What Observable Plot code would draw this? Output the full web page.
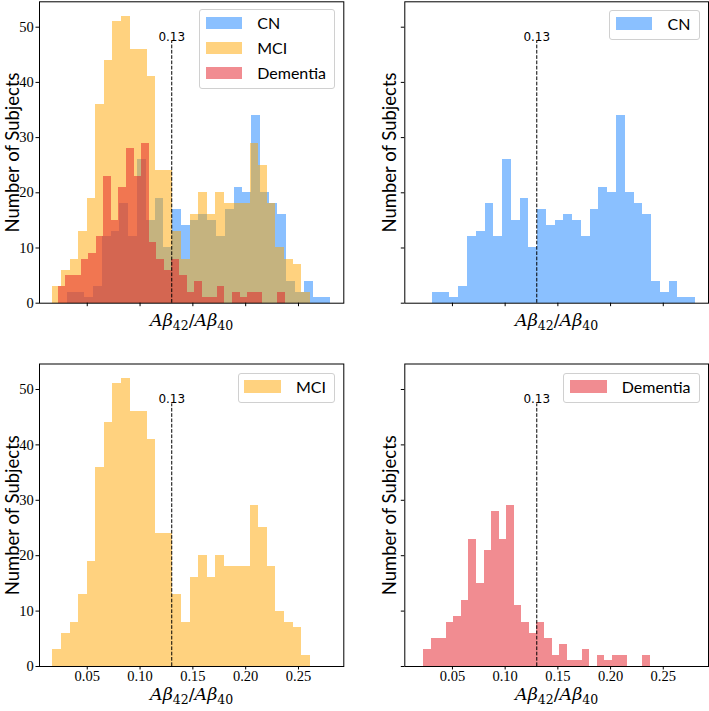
<!DOCTYPE html>
<html>
<head>
<meta charset="utf-8">
<script src="https://cdn.jsdelivr.net/npm/d3@7"></script>
<script src="https://cdn.jsdelivr.net/npm/@observablehq/plot@0.6"></script>
<style>
  html, body { margin: 0; padding: 0; background: #ffffff; }
  #fig { position: relative; width: 709px; height: 711px; background: #ffffff; overflow: hidden; }
  #fig svg { position: absolute; overflow: visible; }
  .legend { position: absolute; box-sizing: border-box; background: rgba(255,255,255,0.8);
    border: 1px solid #d0d0d0; border-radius: 3px; padding: 0.3px 8px 3px 5.7px;
    font-family: Lato, "DejaVu Sans", sans-serif; font-size: 16px; color: #000; }
  .legend .row { display: flex; align-items: center; height: 25px; white-space: nowrap; }
  .legend .sw { display: inline-block; width: 36.5px; height: 12.5px; margin-right: 15.2px; }
</style>
</head>
<body>
<div id="fig"></div>
<script>
// ---------------- data ----------------
const groups = ["CN", "MCI", "Dementia"];
const groupColors = ["#1582ff", "#ffa500", "#e31a23"];

// 30 equal-width bins per group, between the given first/last bin edges
const cnRange = [0.031, 0.2805];
const cnCounts = [2, 2, 1, 3, 12, 13, 18, 12, 26, 15, 19, 10, 17, 14, 15, 16, 15, 12, 17, 21, 20, 34, 20, 18, 16, 4, 2, 4, 1, 1];

const mciRange = [0.0175, 0.2611];
const mciCounts = [3, 6, 8, 13, 19, 36, 44, 51, 52, 46, 46, 41, 24, 24, 13, 8, 16, 20, 16, 20, 18, 18, 18, 29, 25, 18, 10, 8, 7, 2];

const demRange = [0.0227, 0.2377];
const demCounts = [3, 5, 5, 8, 9, 12, 23, 15, 21, 28, 23, 29, 11, 8, 6, 8, 5, 2, 4, 1, 1, 3, 0, 2, 1, 2, 2, 0, 0, 2];

const threshold = 0.13;
const thresholdTop = 47.4;

const xDomain = [0.0048, 0.2929];
const yDomain = [0, 54.6];
const xTicks = [0.05, 0.10, 0.15, 0.20, 0.25];
const yTicks = [0, 10, 20, 30, 40, 50];

const yLabelText = "Number of Subjects";
const xLabelText = "Aβ42/Aβ40";

// ---------------- helpers ----------------
function bins(counts, range, group) {
  const w = (range[1] - range[0]) / counts.length;
  return counts.map((c, i) => ({group, x1: range[0] + i * w, x2: range[0] + (i + 1) * w, count: c}));
}
const seriesData = {
  CN: bins(cnCounts, cnRange, "CN"),
  MCI: bins(mciCounts, mciRange, "MCI"),
  Dementia: bins(demCounts, demRange, "Dementia")
};
const colorOf = Object.fromEntries(groups.map((g, i) => [g, groupColors[i]]));

const SERIF = "'Liberation Serif', 'DejaVu Serif', serif";
const SANS = "Lato, 'DejaVu Sans', sans-serif";

function panel({show, left, top, width, height, margin, xTickLabels, yTickLabels, xLabelDy, yLabelDx}) {
  const marks = [];
  for (const g of show) {
    marks.push(Plot.rectY(seriesData[g], {
      x1: "x1", x2: "x2", y1: 0, y2: "count",
      fill: colorOf[g], fillOpacity: 0.5, shapeRendering: "crispEdges"
    }));
  }
  marks.push(Plot.ruleX([threshold], {x: d => d, y1: 0, y2: thresholdTop,
    stroke: "black", strokeWidth: 1, strokeDasharray: "3.7,1.6"}));
  marks.push(Plot.text([threshold], {x: d => d, y: thresholdTop, text: d => d.toFixed(2),
    lineAnchor: "bottom", dy: -0.5, fontFamily: "'DejaVu Sans', sans-serif", fontSize: 12, fill: "black"}));
  marks.push(Plot.frame({stroke: "black", strokeWidth: 1}));
  marks.push(Plot.axisX({ticks: xTicks, tickSize: 3.5, tickPadding: 1, label: null,
    tickFormat: xTickLabels ? (d => d.toFixed(2)) : (() => ""),
    fontFamily: SERIF, fontSize: 14.5, stroke: "black", fill: "black"}));
  marks.push(Plot.axisY({ticks: yTicks, tickSize: 3.5, tickPadding: 2.2, label: null,
    tickFormat: yTickLabels ? (d => String(d)) : (() => ""),
    fontFamily: SERIF, fontSize: 14.5, stroke: "black", fill: "black"}));
  marks.push(Plot.text([yLabelText], {frameAnchor: "left", text: d => d, rotate: -90,
    textAnchor: "middle", lineAnchor: "bottom", dx: yLabelDx,
    fontFamily: SANS, fontSize: 18.5, fill: "black"}));
  marks.push(Plot.text([xLabelText], {frameAnchor: "bottom", text: d => d,
    textAnchor: "middle", lineAnchor: "bottom", dy: xLabelDy,
    fontFamily: "'DejaVu Serif', serif", fontSize: 17.5, fill: "black"}));

  const svg = Plot.plot({
    width, height,
    marginLeft: margin[0], marginRight: margin[1], marginTop: margin[2], marginBottom: margin[3],
    x: {domain: xDomain},
    y: {domain: yDomain},
    style: {background: "transparent", color: "black", overflow: "visible"},
    marks
  });
  svg.style.left = left + "px";
  svg.style.top = top + "px";

  // typeset the x label: italic A and beta, smaller lowered subscripts
  for (const t of svg.querySelectorAll("text")) {
    if (t.textContent === xLabelText) {
      t.textContent = "";
      const parts = [["Aβ", "i"], ["42", "s"], ["/", "n"], ["Aβ", "i"], ["40", "s"]];
      const ns = "http://www.w3.org/2000/svg";
      let shifted = false;
      for (const [str, kind] of parts) {
        const sp = document.createElementNS(ns, "tspan");
        sp.textContent = str;
        if (kind === "i") sp.setAttribute("font-style", "italic");
        if (kind === "s") {
          sp.setAttribute("font-size", "12.5px");
          sp.setAttribute("dy", "4");
          shifted = true;
        } else if (shifted) {
          sp.setAttribute("dy", "-4");
          shifted = false;
        }
        t.appendChild(sp);
      }
    }
  }
  return svg;
}

function legend(entries, right, top) {
  const div = document.createElement("div");
  div.className = "legend";
  div.style.right = right + "px";
  div.style.top = top + "px";
  for (const g of entries) {
    const row = document.createElement("div");
    row.className = "row";
    const sw = document.createElement("span");
    sw.className = "sw";
    sw.style.background = colorOf[g];
    sw.style.opacity = 0.5;
    const lab = document.createElement("span");
    lab.textContent = g;
    row.appendChild(sw);
    row.appendChild(lab);
    div.appendChild(row);
  }
  return div;
}

const fig = document.getElementById("fig");
// frames: left panels x 39 -> 343.3, right panels x 404.3 -> 708; top y 1.3 -> 302.7, bottom y 363.5 -> 666
fig.appendChild(panel({show: ["CN", "MCI", "Dementia"], left: 0, top: 0, width: 354, height: 345,
  margin: [39, 10.7, 1.3, 42.3], xTickLabels: false, yTickLabels: true, xLabelDy: 22.3, yLabelDx: -21}));
fig.appendChild(panel({show: ["CN"], left: 354, top: 0, width: 355, height: 345,
  margin: [50.3, 1, 1.3, 42.3], xTickLabels: false, yTickLabels: false, xLabelDy: 22.3, yLabelDx: -9.3}));
fig.appendChild(panel({show: ["MCI"], left: 0, top: 350, width: 354, height: 361,
  margin: [39, 10.7, 13.5, 45], xTickLabels: true, yTickLabels: true, xLabelDy: 33.3, yLabelDx: -21}));
fig.appendChild(panel({show: ["Dementia"], left: 354, top: 350, width: 355, height: 361,
  margin: [50.3, 1, 13.5, 45], xTickLabels: true, yTickLabels: false, xLabelDy: 33.3, yLabelDx: -9.3}));

fig.appendChild(legend(["CN", "MCI", "Dementia"], 709 - 335, 9));
fig.appendChild(legend(["CN"], 709 - 699.5, 9.5));
fig.appendChild(legend(["MCI"], 709 - 335, 372.5));
fig.appendChild(legend(["Dementia"], 709 - 699.5, 372.5));
</script>
</body>
</html>
